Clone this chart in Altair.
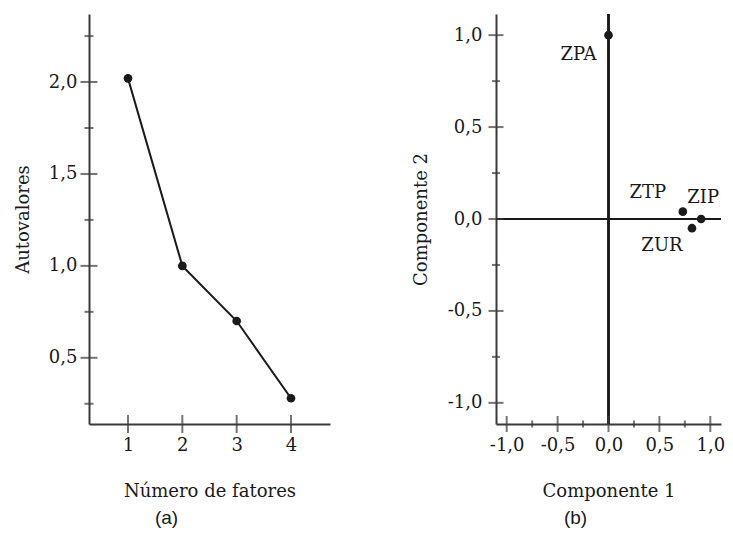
import altair as alt
import pandas as pd

# ---------------- data ----------------
# Panel (a): scree plot
fatores = [1, 2, 3, 4]
autovalores = [2.02, 1.00, 0.70, 0.28]
a_x_ticks = [1, 2, 3, 4]
a_y_major = [0.5, 1.0, 1.5, 2.0]
a_y_minor = [0.25, 0.75, 1.25, 1.75, 2.25]
a_x_domain = [0.282, 4.718]
a_y_domain = [0.14, 2.37]

# Panel (b): component loadings
variaveis = ["ZPA", "ZTP", "ZIP", "ZUR"]
comp1 = [0.00, 0.73, 0.91, 0.82]
comp2 = [1.00, 0.04, 0.00, -0.05]
b_major = [-1.0, -0.5, 0.0, 0.5, 1.0]
b_minor = [-0.75, -0.25, 0.25, 0.75]
b_x_domain = [-1.105, 1.105]
b_y_domain = [-1.115, 1.115]

# ---------------- style ----------------
INK = "#1a1a1a"
AX = "#3a3a3a"
SERIF = "DejaVu Serif"
comma_expr = "(datum.value < 0 ? '-' : '') + replace(format(abs(datum.value), '.1f'), '.', ',')"


def axis(title, values, label_pad, title_pad, expr):
    return alt.Axis(
        title=title, values=values, ticks=False, tickSize=0, grid=False,
        domainColor=AX, domainWidth=2, labelPadding=label_pad, titlePadding=title_pad,
        labelFont=SERIF, labelFontSize=18, labelColor=INK, labelExpr=expr,
        titleFont=SERIF, titleFontSize=18, titleFontWeight="normal", titleColor=INK,
    )


def yticks(values, sx, sy, ax_x, ax_y, xpos, size):
    return alt.Chart(pd.DataFrame({"t": values})).mark_tick(
        orient="horizontal", size=size, thickness=2, color=AX
    ).encode(
        x=alt.XDatum(xpos, type="quantitative", scale=sx, axis=ax_x),
        y=alt.Y("t:Q", scale=sy, axis=ax_y),
    )


def xticks(values, sx, sy, ax_x, ax_y, ypos, size):
    return alt.Chart(pd.DataFrame({"t": values})).mark_tick(
        orient="vertical", size=size, thickness=2, color=AX
    ).encode(
        x=alt.X("t:Q", scale=sx, axis=ax_x),
        y=alt.YDatum(ypos, type="quantitative", scale=sy, axis=ax_y),
    )


def caption(text, dx):
    return alt.TitleParams(
        text, orient="bottom", frame="group", dx=dx, offset=9,
        font="Liberation Sans", fontSize=19, fontWeight="normal", color=INK,
    )


# ---------------- panel (a) ----------------
sxa = alt.Scale(domain=a_x_domain, nice=False, zero=False)
sya = alt.Scale(domain=a_y_domain, nice=False, zero=False)
axa_x = axis("Número de fatores", a_x_ticks, 12, 28, "format(datum.value, 'd')")
axa_y = axis("Autovalores", a_y_major, 12, 16, comma_expr)
df_a = pd.DataFrame({"f": fatores, "v": autovalores})

line_a = alt.Chart(df_a).mark_line(color=INK, strokeWidth=2).encode(
    x=alt.X("f:Q", scale=sxa, axis=axa_x),
    y=alt.Y("v:Q", scale=sya, axis=axa_y),
)
pts_a = alt.Chart(df_a).mark_circle(size=75, color=INK, opacity=1).encode(
    x=alt.X("f:Q", scale=sxa, axis=axa_x),
    y=alt.Y("v:Q", scale=sya, axis=axa_y),
)
panel_a = alt.layer(
    line_a, pts_a,
    yticks(a_y_major, sxa, sya, axa_x, axa_y, a_x_domain[0], 17),
    yticks(a_y_minor, sxa, sya, axa_x, axa_y, a_x_domain[0], 9),
    xticks(a_x_ticks, sxa, sya, axa_x, axa_y, a_y_domain[0], 18),
).properties(width=241, height=410, title=caption("(a)", -43))

# ---------------- panel (b) ----------------
sxb = alt.Scale(domain=b_x_domain, nice=False, zero=False)
syb = alt.Scale(domain=b_y_domain, nice=False, zero=False)
axb_x = axis("Componente 1", b_major, 12, 28, comma_expr)
axb_y = axis("Componente 2", b_major, 14, 17, comma_expr)
df_b = pd.DataFrame({"nome": variaveis, "c1": comp1, "c2": comp2})

vrule = alt.Chart(df_b).mark_rule(color=INK, strokeWidth=2).encode(
    x=alt.XDatum(0, type="quantitative", scale=sxb, axis=axb_x),
)
hrule = alt.Chart(df_b).mark_rule(color=INK, strokeWidth=2).encode(
    y=alt.YDatum(0, type="quantitative", scale=syb, axis=axb_y),
)
pts_b = alt.Chart(df_b).mark_circle(size=75, color=INK, opacity=1).encode(
    x=alt.X("c1:Q", scale=sxb, axis=axb_x),
    y=alt.Y("c2:Q", scale=syb, axis=axb_y),
)
label_offsets = {"ZPA": (-30, 20), "ZTP": (-35, -19), "ZIP": (2, -21), "ZUR": (-30, 18)}
labels = [
    alt.Chart(df_b).transform_filter(alt.datum.nome == nm).mark_text(
        dx=dx, dy=dy, font=SERIF, fontSize=18, color=INK
    ).encode(
        x=alt.X("c1:Q", scale=sxb, axis=axb_x),
        y=alt.Y("c2:Q", scale=syb, axis=axb_y),
        text="nome:N",
    )
    for nm, (dx, dy) in label_offsets.items()
]
panel_b = alt.layer(
    vrule, hrule, pts_b, *labels,
    yticks(b_major, sxb, syb, axb_x, axb_y, b_x_domain[0], 15),
    yticks(b_minor, sxb, syb, axb_x, axb_y, b_x_domain[0], 8),
    xticks(b_major, sxb, syb, axb_x, axb_y, b_y_domain[0], 16),
    xticks(b_minor, sxb, syb, axb_x, axb_y, b_y_domain[0], 7),
).properties(width=225, height=410, title=caption("(b)", -33))

chart = alt.hconcat(panel_a, panel_b, spacing=82).properties(
    padding={"left": 6, "top": 5, "right": 0, "bottom": 0},
    background="white",
).configure_view(stroke=None)

chart.save("out.html", embed_options={"renderer": "svg", "actions": False})
